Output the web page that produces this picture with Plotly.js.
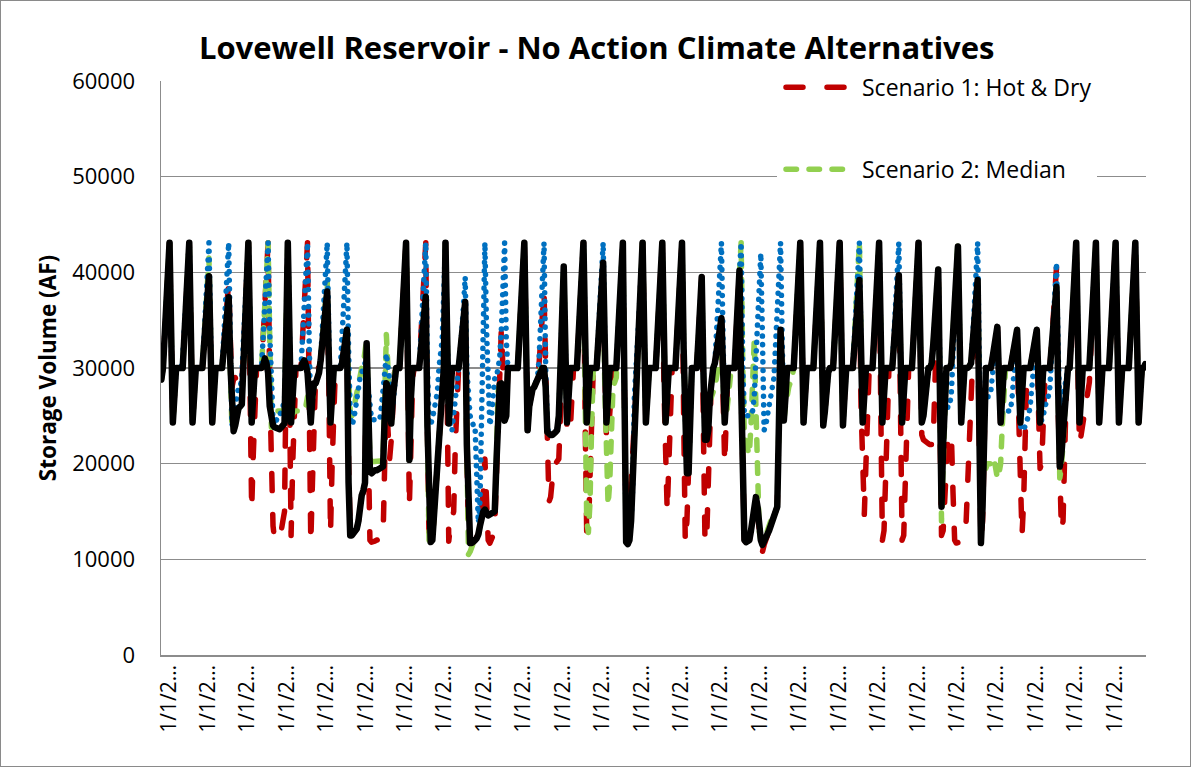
<!DOCTYPE html>
<html>
<head>
<meta charset="utf-8">
<script src="https://cdn.plot.ly/plotly-3.0.1.min.js"></script>
<style>
  html, body { margin: 0; padding: 0; background: #fff; }
  #chart { width: 1189px; height: 765px; border: 1px solid #8a8a8a; }
  path.js-line { stroke-linecap: round; stroke-linejoin: round; }
  .legendlines path.js-line { d: path("M9,0h65"); }
</style>
</head>
<body>
<div id="chart"></div>
<script>
// Monthly storage volume (AF), 50 years x 12 months, one row per year
const scenario1HotDry = [
28800,30000,33250,36500,39750,43100,33700,24300,27150,30000,30000,30000,
30000,30000,33250,36500,39750,43100,33700,24300,27150,30000,30000,30000,
30000,30000,32400,34800,37200,39600,32000,24300,27150,30000,30000,30000,
30000,30000,32250,34500,36750,39000,33000,28000,28800,29000,28500,28000,
28000,28500,31500,35000,39000,43100,28000,15200,21000,28000,30000,30000,
30000,30000,33250,36500,39750,43100,28000,19000,13500,12000,12000,12200,
12500,13000,14000,15000,30000,43100,28000,12500,20000,28000,30000,30000,
30000,30000,33250,36500,39750,43100,27000,11700,18000,27000,29500,30000,
30000,30800,32500,34300,36200,38000,28000,12700,20000,28000,30000,30000,
30000,30000,30500,32000,33200,34000,20000,13000,12500,12700,12900,13200,
14000,16000,16500,17000,18000,32000,17000,12000,11800,11800,11900,12000,
12000,12100,12200,12300,20000,28000,23500,20500,22500,27000,29500,30000,
30000,30000,33250,36500,39750,43100,30000,15500,22000,29000,30000,30000,
30000,30000,33250,36500,39750,43100,24000,12000,11800,12000,14500,17000,
20000,23000,25500,28000,30000,43100,26000,11900,13500,14500,15000,22000,
28000,30000,31700,33400,35200,36900,22000,12000,11700,11700,11800,12000,
12200,12600,13500,14800,17000,20500,16000,12000,11700,12000,12500,13500,
18000,25000,30000,34000,30000,26000,25500,30000,30000,30000,30000,30000,
30000,30000,33250,36500,39750,43100,33300,23500,26000,27500,27800,28000,
28500,29000,30500,33000,35500,38000,30000,20000,16000,16500,19000,20000,
20000,20200,20500,25000,32000,38000,30000,23500,23200,23500,27000,30000,
30000,30000,33250,36500,39750,43100,25000,12500,12800,18000,26000,30000,
30000,30000,32750,35500,38250,41000,30000,22800,22800,25000,28000,30000,
30000,30000,33250,34000,38000,43100,27000,11800,11600,13000,18000,20500,
23500,27500,31500,35500,39500,43100,33700,24300,27150,30000,30000,30000,
30000,30000,33250,36500,39750,43100,28000,22000,15000,20000,26000,30000,
30000,30000,33250,36500,39750,43100,25000,11800,14000,19000,25000,30000,
30000,30000,30000,33000,36300,39500,24000,11800,12000,18000,24000,29500,
30000,30500,31500,32500,34000,35200,27000,20000,25000,30000,30000,30000,
30000,30000,33500,37000,40200,28000,15000,12000,11800,11900,12000,13000,
13500,14500,15000,14500,13000,11500,10800,11500,12000,12500,13000,13500,
14000,14500,15000,15500,24000,34000,29000,24500,27000,30000,30000,30000,
30000,30000,33250,36500,39750,43100,33700,24300,27150,30000,30000,30000,
30000,30000,33250,36500,39750,43100,33700,24000,25500,28000,29500,30000,
30000,30000,33250,36500,39750,43100,33700,24000,27150,30000,30000,30000,
30000,30000,32300,34600,36900,39200,26000,20000,14700,20000,27000,30000,
30000,30000,33250,36500,39750,43100,26000,12000,13000,19000,26000,30000,
30000,30000,32400,34900,37300,39700,26000,12000,12500,18000,25000,30000,
30000,30000,33250,36500,39750,43100,33700,23000,22500,22300,22200,22100,
22000,22000,22500,28000,34000,40300,25000,12500,13000,17000,21000,23000,
23000,23000,17000,12000,11700,11700,11800,12000,12500,13000,14000,18000,
24000,29000,31000,33000,35000,36000,22000,12000,14000,25000,30000,30000,
30000,30000,31000,32100,33200,34300,29000,24300,27150,30000,30000,30000,
30000,30000,31000,32000,33000,34000,25000,16000,12500,16000,23000,30000,
30000,30000,31000,32000,33000,34000,26000,19500,20000,25000,29000,30000,
30000,30000,32500,35000,37800,40500,26000,18000,13000,14000,22000,28000,
30000,30000,33250,36500,39750,43100,30000,22000,23000,24000,25000,26000,
27000,28500,32000,36000,39500,43100,33700,24300,27150,30000,30000,30000,
30000,30000,33250,36500,39750,43100,33700,24300,27150,30000,30000,30000,
30000,30000,33250,36500,39750,43100,33700,24300,27150,30000,30000,30400
];

const scenario2Median = [
28800,30000,33250,36500,39750,43100,33700,24300,27150,30000,30000,30000,
30000,30000,33250,36500,39750,43100,33700,24300,27150,30000,30000,30000,
30000,30000,32900,35800,38700,41500,32900,24300,27150,30000,30000,30000,
30000,30000,31850,33700,35550,37400,30500,23500,23400,24000,25300,25800,
26000,26200,30400,34600,38900,43100,33700,24300,27150,30000,30000,30000,
30000,30000,33250,36500,39750,43100,33000,23800,24500,25200,25500,25500,
25500,25500,25500,25800,33000,43100,33000,25000,25200,25500,25500,25500,
25500,25500,25500,25700,26000,27000,26000,25000,26500,28400,28500,29000,
29500,31000,33000,35000,37000,39000,31000,24300,27150,30000,30000,30000,
30000,30000,30500,32000,33200,34000,29000,25500,25000,25500,26500,27500,
28500,29500,30000,30500,31500,33000,26000,20500,20200,20200,20200,20200,
20200,20200,20300,20400,27000,33500,30000,24600,24200,27000,29500,30000,
30000,30000,33250,36500,39750,43100,32000,20400,27000,30000,30000,30000,
30000,30000,31900,33800,35600,37450,24000,12000,11800,12000,14500,17000,
20000,23000,25500,28000,30000,43100,33700,24200,27150,30000,30000,30000,
30000,30000,31700,33400,35200,36900,22000,10500,10800,11300,11800,12200,
12200,12600,13500,14800,15000,15200,14800,14600,14700,14800,14900,15000,
20000,27500,28300,28400,26000,24500,25000,30000,30000,30000,30000,30000,
30000,30000,33250,36500,39750,43100,33300,23500,26000,27500,27800,28000,
28500,29000,29500,30000,30000,30000,28000,23300,23100,23000,23000,23100,
23300,23500,25000,30000,35500,40600,32000,24300,27150,30000,30000,30000,
30000,30000,33250,36500,39750,43100,27000,14000,12800,16000,24000,30000,
30000,30000,32750,35500,38250,41000,28000,20000,15700,18000,24000,28000,
28500,29000,33250,36500,39750,43100,27000,11800,11600,12500,15000,18000,
22500,27000,31500,35500,39500,43100,33700,24300,27150,30000,30000,30000,
30000,30000,33250,36500,39750,43100,33700,24300,27150,30000,30000,30000,
30000,30000,33250,36500,39750,43100,32000,22000,19500,19500,24000,30000,
30000,30000,30000,33000,36300,39500,30000,23000,25000,26000,26500,27000,
27500,28000,29000,30000,31000,32000,29000,24500,25000,26500,28000,30000,
30000,30000,33500,37000,40200,43100,30000,23000,22000,21500,21000,24000,
29000,33000,26000,16000,13000,12000,11800,12000,12500,13000,13500,14000,
14000,14500,15000,15500,24000,34000,29000,24500,26000,27500,28000,28500,
29000,30000,33250,36500,39750,43100,33700,24300,27150,30000,30000,30000,
30000,30000,33250,36500,39750,43100,33700,24000,25500,28000,29500,30000,
30000,30000,33250,36500,39750,43100,33700,24000,27150,30000,30000,30000,
30000,30000,33250,36500,39750,43100,32000,24300,27150,30000,30000,30000,
30000,30000,33250,36500,39750,43100,33700,24300,27150,30000,30000,30000,
30000,30000,32400,34900,37300,39700,32000,24300,27150,30000,30000,30000,
30000,30000,33250,36500,39750,43100,33700,24300,25000,26500,28000,30000,
30000,30500,32500,35000,37600,40300,28000,14000,20000,28000,30000,30000,
30000,30500,33500,36500,39750,43100,33500,24300,27150,30000,30000,30000,
30200,30500,32700,34900,37000,39200,28000,21000,20000,19500,19500,20000,
20000,20000,20000,20500,19000,18500,19000,20000,24000,28000,30000,30000,
30000,30000,31000,32000,33000,34000,29000,24300,27150,30000,30000,30000,
30000,30000,31000,32000,33000,34000,29000,24300,27150,30000,30000,30000,
30000,30000,32100,34200,36300,38500,28000,18500,19500,23000,25500,28000,
30000,30000,33250,36500,39750,43100,33700,24300,27150,30000,30000,30000,
30000,30000,33250,36500,39750,43100,33700,24300,27150,30000,30000,30000,
30000,30000,33250,36500,39750,43100,33700,24300,27150,30000,30000,30000,
30000,30000,33250,36500,39750,43100,33700,24300,27150,30000,30000,30400
];

const scenario3 = [
28800,30000,33250,36500,39750,43100,33700,24300,27150,30000,30000,30000,
30000,31000,34500,38000,41500,43100,33700,24300,27150,30000,30000,30000,
30000,30000,33250,36500,39750,43100,33700,24300,27150,30000,30000,30000,
30000,30000,33250,36500,39750,43100,33000,24000,25000,26000,27000,28000,
28000,29000,33000,36500,39750,43100,33700,24300,27150,30000,30000,30000,
30000,30000,33250,36500,39750,43100,33700,26000,24500,24000,24500,25000,
25000,25500,26000,26500,33000,43100,33700,24300,27150,30000,30000,30000,
30000,30000,33250,36500,39750,43100,33000,24300,27000,28400,28400,28800,
29500,31000,34000,37000,40000,43100,33000,24300,27150,30000,30000,30000,
30000,30000,33250,36500,39750,43100,32000,25000,24000,24500,25500,27000,
28000,29000,29500,30000,30500,31000,28000,25500,24600,24600,24600,24600,
24600,24600,26000,27400,29500,31500,30000,28000,26500,26000,28000,30000,
30000,30000,33250,36500,39750,43100,32000,20400,27000,30000,30000,30000,
30000,30000,33250,36500,39750,43100,30000,24500,24000,24600,25500,26500,
27400,30000,31500,33000,38000,43100,33000,28000,23500,23500,25000,26000,
28000,29500,31500,34000,36500,39500,30000,26000,25000,24500,24000,24000,
20000,13800,16000,26000,36000,43100,34000,26000,24000,25000,27000,29000,
29000,30000,31000,34000,38500,43100,33000,30000,30000,30000,30000,30000,
30000,30000,33250,36500,39750,43100,33300,23500,26000,27500,27800,28000,
28500,29000,31000,34500,38500,43100,30000,24000,23000,23000,23000,23100,
23300,23500,25000,30000,35500,40600,32000,24300,27150,30000,30000,30000,
30000,30000,33250,36500,39750,43100,33700,24300,27150,30000,30000,30000,
30000,30000,33250,36500,39750,43100,32500,24300,27150,30000,30000,30000,
30000,30000,33250,36500,39750,43100,27000,11800,11600,12000,14000,17500,
27000,31000,33500,36000,39500,43100,33700,24300,27150,30000,30000,30000,
30000,30000,33250,36500,39750,43100,33700,24300,27150,30000,30000,30000,
30000,30000,33250,36500,39750,43100,32000,22000,19000,19000,25000,30000,
30000,30000,30000,33000,36300,39500,30000,22500,22500,23500,27000,29500,
30000,30500,33250,36500,39750,43100,33000,24300,27150,30000,30000,30000,
30000,30000,33500,37000,40200,43100,30000,25000,25000,25000,25000,25000,
25500,27000,31000,35000,38500,42000,33000,23500,24000,25000,26000,27000,
28000,29000,32500,36000,39500,43100,33000,24500,27000,30000,30000,30000,
30000,30000,33250,36500,39750,43100,33700,24300,27150,30000,30000,30000,
30000,30000,33250,36500,39750,43100,33700,24000,25500,28000,29500,30000,
30000,30000,33250,36500,39750,43100,33700,24000,27150,30000,30000,30000,
30000,30000,33250,36500,39750,43100,32000,24300,27150,30000,30000,30000,
30000,30000,33250,36500,39750,43100,33700,24300,27150,30000,30000,30000,
30000,30000,33250,36500,39750,43100,32000,24300,27150,30000,30000,30000,
30000,30000,33250,36500,39750,43100,33700,24300,25000,26500,28000,30000,
30000,30500,32500,35000,37600,40300,30000,27000,26000,25500,25500,26000,
26000,27500,31500,35500,39500,42700,33500,24300,27150,30000,30000,30000,
30200,30500,33250,36500,39750,43100,30000,24300,25500,27000,27500,27000,
27000,27500,29000,31000,33000,34300,29000,25000,25500,25500,25500,25500,
25500,25500,27000,29500,32000,34000,29000,24000,23500,23500,24000,24500,
25000,26000,28500,31000,33000,34000,29000,25000,24500,25000,26000,26500,
27000,28000,31000,34500,38000,41000,32000,26000,27000,27500,28000,29000,
30000,30000,33250,36500,39750,43100,33700,24300,27150,30000,30000,30000,
30000,30000,33250,36500,39750,43100,33700,24300,27150,30000,30000,30000,
30000,30000,33250,36500,39750,43100,33700,24300,27150,30000,30000,30000,
30000,30000,33250,36500,39750,43100,33700,24300,27150,30000,30000,30400
];

const noActionBaseline = [
28800,30000,33250,36500,39750,43100,33700,24300,27150,30000,30000,30000,
30000,30000,33250,36500,39750,43100,33700,24300,27150,30000,30000,30000,
30000,30000,32400,34800,37200,39600,32000,24300,27150,30000,30000,30000,
30000,30000,31850,33700,35550,37400,30500,23500,23400,24000,25300,25800,
26000,26200,30400,34600,38900,43100,33700,24300,27150,30000,30000,30000,
30000,30000,30300,31000,30500,29500,26000,24200,24000,23800,23700,23600,
23600,23800,24000,24200,33000,43100,33700,24300,27150,30000,30000,30000,
30000,30000,30500,30800,30300,29500,27000,24300,27000,28400,28400,28800,
29500,30800,32500,34300,36200,38000,31000,24300,27150,30000,30000,30000,
30000,30000,30500,32000,33200,34000,18000,12500,12500,12700,12900,13200,
14000,16300,16700,17200,18000,32600,20500,19200,19000,19200,19300,19300,
19500,19500,19600,19700,25000,28400,28000,24600,24200,27000,29500,30000,
30000,30000,33250,36500,39750,43100,32000,20400,27000,30000,30000,30000,
30000,30000,31900,33800,35600,37450,24000,12000,11800,12000,14500,17000,
20000,23000,25500,28000,30000,43100,33700,24200,27150,30000,30000,30000,
30000,30000,31700,33400,35200,36900,22000,12000,11700,11700,11800,12000,
12200,12600,13500,14800,15000,15200,14800,14600,14700,14800,14900,15000,
20000,27500,28300,28400,26000,24500,25000,30000,30000,30000,30000,30000,
30000,30000,33250,36500,39750,43100,33300,23500,26000,27500,27800,28000,
28500,29000,29500,30000,30000,30000,28000,23300,23100,23000,23000,23100,
23300,23500,25000,30000,35500,40600,32000,24300,27150,30000,30000,30000,
30000,30000,33250,36500,39750,43100,33700,24300,27150,30000,30000,30000,
30000,30000,32750,35500,38250,41000,32500,24300,27150,30000,30000,30000,
30000,30000,33250,36500,39750,43100,27000,11800,11600,12000,14000,17500,
22000,27000,31500,35500,39500,43100,33700,24300,27150,30000,30000,30000,
30000,30000,33250,36500,39750,43100,33700,24300,27150,30000,30000,30000,
30000,30000,33250,36500,39750,43100,32000,22000,19000,19000,25000,30000,
30000,30000,30000,33000,36300,39500,30000,22500,22500,23500,27000,29500,
30000,30500,31500,32500,34000,35200,30000,24300,27150,30000,30000,30000,
30000,30000,33500,37000,40200,28000,15000,12000,11800,11900,12000,13000,
14000,16000,16500,15500,13500,12000,11500,11800,12200,12700,13000,13500,
14000,14500,15000,15500,24000,34000,29000,24500,27000,30000,30000,30000,
30000,30000,33250,36500,39750,43100,33700,24300,27150,30000,30000,30000,
30000,30000,33250,36500,39750,43100,33700,24000,25500,28000,29500,30000,
30000,30000,33250,36500,39750,43100,33700,24000,27150,30000,30000,30000,
30000,30000,32300,34600,36900,39200,32000,24300,27150,30000,30000,30000,
30000,30000,33250,36500,39750,43100,33700,24300,27150,30000,30000,30000,
30000,30000,32400,34900,37300,39700,32000,24300,27150,30000,30000,30000,
30000,30000,33250,36500,39750,43100,33700,24300,25000,26500,28000,30000,
30000,30500,32500,35000,37600,40300,28000,15500,22000,28000,30000,30000,
30000,30500,33500,36500,39600,42700,33500,24300,27150,30000,30000,30000,
30200,30500,32700,34900,37000,39200,24000,11700,15500,27000,30000,30000,
30000,30000,31000,32100,33200,34300,29000,24300,27150,30000,30000,30000,
30000,30000,31000,32000,33000,34000,29000,24300,27150,30000,30000,30000,
30000,30000,31000,32000,33000,34000,29000,24300,27150,30000,30000,30000,
30000,30000,32100,34200,36300,38500,28000,19700,21000,23000,25500,28000,
30000,30000,33250,36500,39750,43100,33700,24300,27150,30000,30000,30000,
30000,30000,33250,36500,39750,43100,33700,24300,27150,30000,30000,30000,
30000,30000,33250,36500,39750,43100,33700,24300,27150,30000,30000,30000,
30000,30000,33250,36500,39750,43100,33700,24300,27150,30000,30000,30400
];

// x categories: month number of the simulation
const monthNumber = noActionBaseline.map((_, i) => i);

// date tick labels (truncated as in the original), every 24 months
const tickMonths = [4.5, 28.5, 52.5, 76.5, 100.5, 124.5, 148.5, 172.5, 196.5, 220.5,
  244.5, 268.5, 292.5, 316.5, 340.5, 364.5, 388.5, 412.5, 436.5, 460.5,
  484.5, 508.5, 532.5, 556.5, 580.5];
const tickLabels = tickMonths.map(() => '1/1/2\u2026');

const FONT = 'Open Sans, Lato, sans-serif';
const GRID = '#8c8c8c';

const traces = [
  { name: 'Scenario 1: Hot & Dry', uid: 'red', x: monthNumber, y: scenario1HotDry, type: 'scatter', mode: 'lines',
    line: { color: '#c00000', width: 5.5, dash: '17px,24px' }, legendgroup: 'a', showlegend: true },
  { name: 'Scenario 2: Median', uid: 'green', x: monthNumber, y: scenario2Median, type: 'scatter', mode: 'lines',
    line: { color: '#92d050', width: 5.5, dash: '10.5px,12.5px' }, legendgroup: 'b', showlegend: true },
  { name: 'Scenario 3', uid: 'blue', x: monthNumber, y: scenario3, type: 'scatter', mode: 'lines',
    line: { color: '#0070c0', width: 5.5, dash: '0.1px,8.5px' }, legendgroup: 'c', showlegend: false },
  { name: 'No Action', uid: 'black', x: monthNumber, y: noActionBaseline, type: 'scatter', mode: 'lines',
    line: { color: '#000000', width: 6.5 }, legendgroup: 'd', showlegend: false }
];

const layout = {
  width: 1189, height: 765,
  margin: { l: 160, r: 44, t: 80, b: 111 },
  paper_bgcolor: '#ffffff', plot_bgcolor: '#ffffff',
  font: { family: FONT, color: '#000000' },
  title: {
    text: 'Lovewell Reservoir - No Action Climate Alternatives',
    font: { family: FONT, size: 31, weight: 'bold', color: '#000000' },
    x: 0.501, xanchor: 'center', xref: 'container',
    y: 0.938, yanchor: 'middle', yref: 'container'
  },
  xaxis: {
    range: [-0.2, 599.5],
    tickmode: 'array', tickvals: tickMonths, ticktext: tickLabels,
    tickangle: -90, tickfont: { family: FONT, size: 21, color: '#000' },
    showgrid: false, zeroline: false,
    showline: true, linecolor: GRID, linewidth: 1.5,
    ticks: ''
  },
  yaxis: {
    range: [0, 60000], tick0: 0, dtick: 10000, tickformat: 'd',
    tickfont: { family: FONT, size: 22, color: '#000' },
    showgrid: true, gridcolor: GRID, gridwidth: 1.5,
    zeroline: false, showline: true, linecolor: GRID, linewidth: 1.5,
    ticks: 'outside', ticklen: 20, tickcolor: 'rgba(0,0,0,0)',
    title: { text: 'Storage Volume (AF)', font: { family: FONT, size: 22.5, weight: 'bold', color: '#000' }, standoff: 9 }
  },
  legend: {
    x: (777 - 161) / 985, xanchor: 'left',
    y: 1.0265, yanchor: 'top',
    bgcolor: '#ffffff', borderwidth: 0,
    font: { family: FONT, size: 23, color: '#000' },
    itemwidth: 75, traceorder: 'grouped', tracegroupgap: 49
  },
  showlegend: true
};

Plotly.newPlot('chart', traces, layout, { displayModeBar: false, staticPlot: true });
</script>
</body>
</html>
